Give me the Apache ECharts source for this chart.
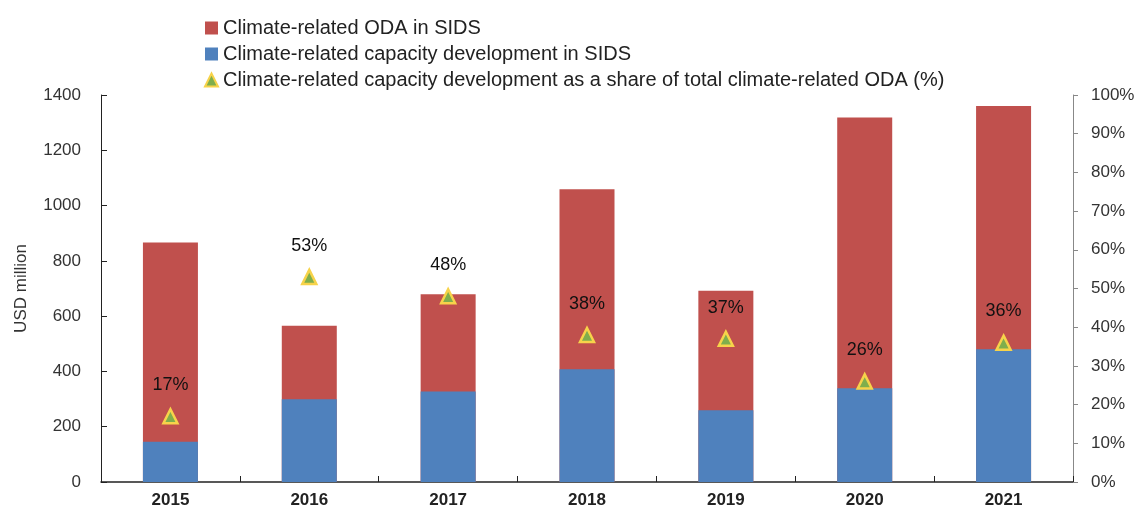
<!DOCTYPE html>
<html>
<head>
<meta charset="utf-8">
<script src="https://cdn.jsdelivr.net/npm/echarts@6/dist/echarts.min.js"></script>
<style>
  html, body { margin: 0; padding: 0; background: #fff; }
  #chart { width: 1139px; height: 509px; }
</style>
</head>
<body>
<div id="chart"></div>
<script>
// data
const years = ['2015', '2016', '2017', '2018', '2019', '2020', '2021'];
const climateOda = [866, 565, 679, 1059, 692, 1319, 1360];
const capacityDev = [146, 299, 327, 408, 260, 339, 480];
const sharePct = [17, 53, 48, 38, 37, 26, 36];

const font = '"Liberation Sans", Arial, sans-serif';

const chart = echarts.init(document.getElementById('chart'));

chart.setOption({
  animation: false,
  textStyle: { fontFamily: font },
  legend: {
    orient: 'vertical',
    left: 199,
    top: 13,
    itemGap: 6,
    itemWidth: 13,
    itemHeight: 13,
    textStyle: { fontSize: 20, color: '#222', fontFamily: font },
    data: [
      { name: 'Climate-related ODA in SIDS', icon: 'rect' },
      { name: 'Climate-related capacity development in SIDS', icon: 'rect' },
      { name: 'Climate-related capacity development as a share of total climate-related ODA (%)', icon: 'triangle' }
    ]
  },
  grid: { left: 101, right: 66, top: 95, bottom: 27 },
  xAxis: {
    type: 'category',
    data: years,
    axisLine: { lineStyle: { color: '#222', width: 1.5 } },
    axisTick: { show: true, inside: true, length: 6, lineStyle: { color: '#222' } },
    axisLabel: { fontSize: 17, fontWeight: 'bold', color: '#222', margin: 10, fontFamily: font }
  },
  yAxis: [
    {
      type: 'value',
      min: 0, max: 1400, interval: 200,
      name: 'USD million',
      nameLocation: 'middle',
      nameGap: 71,
      nameTextStyle: { fontSize: 17, color: '#333', fontFamily: font },
      axisLine: { show: true, lineStyle: { color: '#222' } },
      axisTick: { show: true, inside: true, length: 6, lineStyle: { color: '#222' } },
      axisLabel: { fontSize: 17, color: '#333', margin: 20, formatter: v => String(v), fontFamily: font },
      splitLine: { show: false }
    },
    {
      type: 'value',
      min: 0, max: 100, interval: 10,
      axisLine: { show: true, lineStyle: { color: '#888' } },
      axisTick: { show: true, length: 5, lineStyle: { color: '#888' } },
      axisLabel: { fontSize: 17, color: '#333', margin: 18, formatter: '{value}%', fontFamily: font },
      splitLine: { show: false }
    }
  ],
  series: [
    {
      name: 'Climate-related ODA in SIDS',
      type: 'bar',
      data: climateOda,
      barWidth: 55,
      barGap: '-100%',
      itemStyle: { color: '#C0504D' },
      z: 1
    },
    {
      name: 'Climate-related capacity development in SIDS',
      type: 'bar',
      data: capacityDev,
      barWidth: 55,
      barGap: '-100%',
      itemStyle: { color: '#4F81BD' },
      z: 2
    },
    {
      name: 'Climate-related capacity development as a share of total climate-related ODA (%)',
      type: 'line',
      yAxisIndex: 1,
      data: sharePct,
      symbol: 'triangle',
      symbolSize: 14,
      lineStyle: { opacity: 0 },
      itemStyle: { color: '#7FAE4C', borderColor: '#F7D34A', borderWidth: 2.5 },
      label: {
        show: true,
        position: 'top',
        distance: 14,
        formatter: '{c}%',
        fontSize: 18,
        color: '#111',
        fontFamily: font
      },
      z: 5
    }
  ]
});
</script>
</body>
</html>
